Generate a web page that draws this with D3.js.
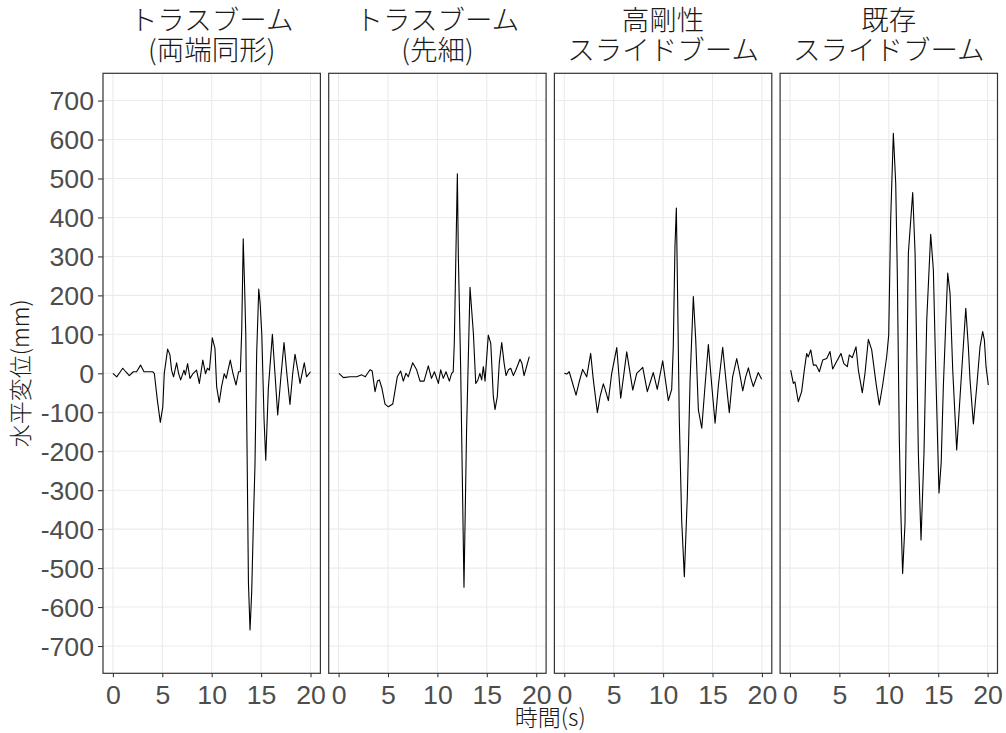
<!DOCTYPE html>
<html>
<head>
<meta charset="utf-8">
<script src="https://cdn.jsdelivr.net/npm/d3@7"></script>
<style>
  html, body { margin: 0; padding: 0; background: #fff; }
  svg { display: block; }
</style>
</head>
<body>
<svg id="chart" width="1006" height="733"></svg>
<script>
// Facet titles (two lines each)
const facetTitles = [
  ["トラスブーム", "(両端同形)"],
  ["トラスブーム", "(先細)"],
  ["高剛性", "スライドブーム"],
  ["既存", "スライドブーム"]
];

// Horizontal displacement (mm) against time (s), one series per boom type: [time, value]
const trussUniform = [
  [0,0],[0.39,-9],[0.7,2],[1.0,13],[1.3,4],[1.66,-6],[2.07,4],[2.4,4],[2.8,21],[3.15,4],
  [4.02,4],[4.2,-1],[4.5,-69],[4.8,-126],[5.05,-86],[5.2,0],[5.54,62],[5.77,48],[5.94,8],
  [6.14,-9],[6.45,27],[6.65,0],[6.86,-17],[7.2,8],[7.33,-4],[7.56,25],[7.8,-13],[8.13,0],
  [8.47,8],[8.75,-26],[9.1,34],[9.37,-1],[9.57,13],[9.77,8],[10.06,91],[10.33,64],[10.5,-34],
  [10.76,-75],[11.0,-34],[11.27,-1],[11.47,-13],[11.88,34],[12.15,0],[12.46,-30],[12.72,4],
  [12.9,4],[13.04,111],[13.19,345],[13.33,222],[13.45,100],[13.6,-250],[13.72,-540],
  [13.88,-659],[14.05,-560],[14.22,-381],[14.38,-235],[14.55,50],[14.76,216],[14.9,180],
  [15.07,100],[15.3,-120],[15.47,-223],[15.73,-40],[16.14,100],[16.4,0],[16.68,-107],
  [17.0,-10],[17.32,79],[17.6,0],[17.92,-80],[18.2,0],[18.43,49],[18.7,10],[18.94,-26],
  [19.37,27],[19.6,-9],[20.0,4]
];

const trussTapered = [
  [0.04,0],[0.49,-11],[1.16,-9],[1.83,-9],[2.34,-4],[2.7,-9],[3.18,9],[3.4,6],[3.69,-47],
  [3.93,-20],[4.13,-17],[4.37,-37],[4.7,-79],[5.04,-86],[5.48,-79],[5.72,-43],[5.94,-9],
  [6.28,6],[6.55,-20],[6.82,0],[7.05,-9],[7.5,27],[7.9,9],[8.24,-20],[8.65,-20],[9.08,19],
  [9.4,-13],[9.7,4],[10.1,-26],[10.33,9],[10.6,-13],[10.87,4],[11.21,-20],[11.44,0],
  [11.6,4],[11.71,77],[11.85,274],[12.02,512],[12.12,300],[12.35,20],[12.69,-549],
  [12.95,-150],[13.3,221],[13.64,103],[13.88,-26],[14.1,-17],[14.3,0],[14.48,-17],
  [14.65,17],[14.82,-20],[15.15,98],[15.4,77],[15.66,-60],[15.83,-93],[16.06,-60],
  [16.26,26],[16.51,79],[16.75,26],[16.95,-6],[17.19,9],[17.42,13],[17.69,-6],[17.95,9],
  [18.36,36],[18.55,26],[18.77,-6],[19.3,43]
];

const slideStiff = [
  [0,0],[0.25,-2],[0.5,4],[1.19,-56],[1.52,-21],[1.86,10],[2.27,-9],[2.67,51],[2.94,-17],
  [3.35,-101],[3.62,-60],[3.95,-27],[4.12,-40],[4.46,-70],[4.8,0],[5.31,66],[5.71,-64],
  [6.32,55],[6.93,-43],[7.33,0],[7.67,8],[7.94,15],[8.4,-47],[9.01,2],[9.41,-41],[9.96,32],
  [10.53,-70],[10.87,-41],[11.03,68],[11.2,325],[11.34,424],[11.45,230],[11.64,-120],
  [11.88,-377],[12.15,-522],[12.45,-317],[12.73,-17],[13.06,197],[13.3,87],[13.57,-94],
  [13.91,-141],[14.25,-30],[14.58,74],[14.92,-30],[15.26,-128],[15.6,-30],[16.03,67],
  [16.37,-20],[16.7,-101],[17.03,-10],[17.45,38],[17.75,0],[18.06,-45],[18.35,-10],
  [18.63,14],[18.85,-10],[19.13,-34],[19.63,2],[19.97,-15]
];

const slideExisting = [
  [0.07,8],[0.34,-26],[0.5,-22],[0.84,-73],[1.18,-47],[1.45,8],[1.69,51],[1.85,42],
  [2.1,60],[2.37,21],[2.65,21],[2.97,4],[3.31,34],[3.72,38],[4.05,56],[4.32,11],[4.72,30],
  [5.16,51],[5.45,25],[5.8,17],[6.0,47],[6.3,40],[6.68,68],[6.92,8],[7.32,-50],[7.59,0],
  [7.93,87],[8.27,60],[8.71,-26],[9.04,-81],[9.38,-30],[9.79,43],[9.99,98],[10.19,394],
  [10.46,616],[10.7,488],[10.86,257],[11.06,-163],[11.2,-342],[11.4,-514],[11.64,-385],
  [11.81,-34],[11.98,308],[12.42,464],[12.66,308],[12.83,51],[12.99,-205],[13.26,-428],
  [13.56,-205],[13.84,137],[14.24,357],[14.51,265],[14.75,8],[15.08,-307],[15.3,-230],
  [15.52,-34],[15.96,257],[16.2,205],[16.47,8],[16.87,-197],[17.21,-60],[17.79,167],
  [18.05,68],[18.22,-17],[18.56,-130],[18.9,-34],[19.23,68],[19.5,107],[19.67,86],
  [19.84,17],[20.07,-30]
];

const seriesList = [trussUniform, trussTapered, slideStiff, slideExisting];

// Axis breaks
const xTicks = [0, 5, 10, 15, 20];
const yTicks = d3.range(-700, 701, 100);

// Layout
const panelTop = 73.3, panelHeight = 600;
const firstLeft = 103, panelWidth = 217.4, panelGap = 8.3;

const svg = d3.select("#chart");

const x = d3.scaleLinear().domain([-1, 21]).range([0, panelWidth]);
const y = d3.scaleLinear().domain([-770, 770]).range([panelTop + panelHeight, panelTop]);

const tickFont = "'Liberation Sans', Arial, sans-serif";
const cjkFont = "'Noto Sans CJK JP', 'Noto Sans', sans-serif";

const line = d3.line()
  .x(d => x(d[0]))
  .y(d => y(d[1]))
  .curve(d3.curveLinear);

facetTitles.forEach((title, i) => {
  const left = firstLeft + i * (panelWidth + panelGap);
  const g = svg.append("g").attr("transform", `translate(${left},0)`);

  // grid
  g.append("g").selectAll("line.h").data(yTicks).join("line")
    .attr("x1", 0).attr("x2", panelWidth)
    .attr("y1", d => y(d)).attr("y2", d => y(d))
    .attr("stroke", "#EBEBEB").attr("stroke-width", 1.07);
  g.append("g").selectAll("line.v").data(xTicks).join("line")
    .attr("x1", d => x(d)).attr("x2", d => x(d))
    .attr("y1", panelTop).attr("y2", panelTop + panelHeight)
    .attr("stroke", "#EBEBEB").attr("stroke-width", 1.07);

  // series
  g.append("path")
    .datum(seriesList[i])
    .attr("d", line)
    .attr("fill", "none")
    .attr("stroke", "#000")
    .attr("stroke-width", 1.1)
    .attr("stroke-linejoin", "round");

  // border
  g.append("rect")
    .attr("x", 0).attr("y", panelTop)
    .attr("width", panelWidth).attr("height", panelHeight)
    .attr("fill", "none").attr("stroke", "#333333").attr("stroke-width", 1.2);

  // x axis
  const xAxis = d3.axisBottom(x).tickValues(xTicks).tickSize(4).tickPadding(6);
  const xg = g.append("g")
    .attr("transform", `translate(0,${panelTop + panelHeight})`)
    .call(xAxis);
  xg.select(".domain").remove();
  xg.selectAll(".tick line").attr("stroke", "#333333").attr("stroke-width", 1.07);
  xg.selectAll(".tick text")
    .attr("fill", "#4D4D4D")
    .style("font-family", tickFont)
    .style("font-size", "26.67px")
    .attr("dy", null)
    .attr("y", 31);

  // y axis on first panel only
  if (i === 0) {
    const yAxis = d3.axisLeft(y).tickValues(yTicks).tickSize(5).tickPadding(4).tickFormat(d3.format("d"));
    const yg = g.append("g").call(yAxis);
    yg.select(".domain").remove();
    yg.selectAll(".tick line").attr("stroke", "#333333").attr("stroke-width", 1.07);
    yg.selectAll(".tick text")
      .attr("fill", "#4D4D4D")
      .style("font-family", tickFont)
      .style("font-size", "26.67px")
      .attr("dy", "0.35em")
      .text(d => d < 0 ? "-" + Math.abs(d) : String(d));
  }

  // strip title
  const strip = g.append("text")
    .attr("text-anchor", "middle")
    .attr("fill", "#1A1A1A")
    .style("font-family", cjkFont)
    .style("font-size", "27.5px")
    .style("font-weight", 300);
  strip.append("tspan").attr("x", panelWidth / 2).attr("y", 30).text(title[0]);
  strip.append("tspan").attr("x", panelWidth / 2).attr("y", 59.5).text(title[1]);
});

// axis titles
const totalRight = firstLeft + 4 * panelWidth + 3 * panelGap;
svg.append("text")
  .attr("x", (firstLeft + totalRight) / 2)
  .attr("y", 726)
  .attr("text-anchor", "middle")
  .attr("fill", "#1A1A1A")
  .style("font-family", cjkFont)
  .style("font-size", "23px")
  .style("font-weight", 300)
  .text("時間(s)");

svg.append("text")
  .attr("transform", `translate(29,${panelTop + panelHeight / 2}) rotate(-90)`)
  .attr("text-anchor", "middle")
  .attr("fill", "#1A1A1A")
  .style("font-family", cjkFont)
  .style("font-size", "23px")
  .style("font-weight", 300)
  .text("水平変位(mm)");
</script>
</body>
</html>
